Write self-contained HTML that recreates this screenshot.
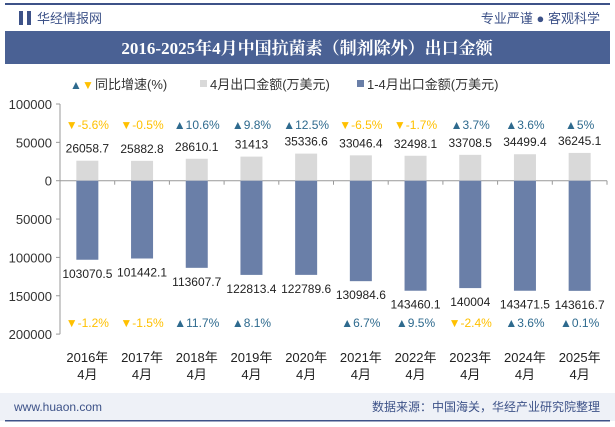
<!DOCTYPE html>
<html><head><meta charset="utf-8"><style>
body{margin:0;width:615px;height:427px;background:#fff;overflow:hidden;font-family:"Liberation Sans","Noto Sans CJK SC",sans-serif}
</style></head><body>
<svg width="615" height="427" xmlns="http://www.w3.org/2000/svg" style="position:absolute;left:0;top:0">
<rect x="5" y="3" width="605" height="2" fill="#3d5288"/>
<rect x="19" y="11" width="4" height="14" fill="#3d5288"/>
<rect x="27" y="11" width="4" height="14" fill="#3d5288"/>
<text x="37" y="23" font-size="13" fill="#3d5288">华经情报网</text>
<text x="600" y="23" font-size="13" fill="#3d5288" text-anchor="end">专业严谨 ● 客观科学</text>
<rect x="5" y="31" width="605" height="33" fill="#4a6194"/>
<text x="307" y="54" font-size="17" font-weight="bold" fill="#fff" text-anchor="middle" font-family="'Liberation Serif','Noto Serif CJK SC',serif">2016-2025年4月中国抗菌素（制剂除外）出口金额</text>
<g font-size="13" fill="#333">
<text x="70" y="89" font-size="12" fill="#2e6a8e">▲</text><text x="82" y="89" font-size="12" fill="#ffc000">▼</text>
<text x="95" y="89">同比增速(%)</text>
<rect x="200" y="80" width="7" height="7" fill="#d9d9d9"/><text x="210" y="89">4月出口金额(万美元)</text>
<rect x="357" y="80" width="7" height="7" fill="#6a7fa8"/><text x="367" y="89">1-4月出口金额(万美元)</text>
</g>
<g id="axis"></g><g id="bars"></g>
<rect x="0" y="393" width="615" height="28" fill="#eef1f7"/>
<rect x="5" y="420" width="605" height="1.5" fill="#3d5288"/>
<text x="14" y="411" font-size="12" fill="#3d5288">www.huaon.com</text>
<text x="600" y="411" font-size="12" fill="#3d5288" text-anchor="end">数据来源：中国海关，华经产业研究院整理</text>
</svg>
<script>
const years=["2016","2017","2018","2019","2020","2021","2022","2023","2024","2025"];
const aprilVals=[26058.7,25882.8,28610.1,31413,35336.6,33046.4,32498.1,33708.5,34499.4,36245.1];
const aprilGrowth=[-5.6,-0.5,10.6,9.8,12.5,-6.5,-1.7,3.7,3.6,5];
const ytdVals=[103070.5,101442.1,113607.7,122813.4,122789.6,130984.6,143460.1,140004,143471.5,143616.7];
const ytdGrowth=[-1.2,-1.5,11.7,8.1,null,6.7,9.5,-2.4,3.6,0.1];
const yTicks=[100000,50000,0,-50000,-100000,-150000,-200000];
const NS="http://www.w3.org/2000/svg";
const x0=60,x1=607,y0=180.7,k=76.7/100000;
const Y=v=>y0-v*k;
const step=(x1-x0)/years.length;
const X=i=>x0+step*(i+0.5);
function el(t,a,p,txt){const e=document.createElementNS(NS,t);for(const q in a)e.setAttribute(q,a[q]);if(txt!=null)e.textContent=txt;p.appendChild(e);return e;}
const ax=document.getElementById('axis'),g=document.getElementById('bars');
const yl=el('line',{x1:x0,y1:Y(100000),x2:x0,y2:Y(-200000),stroke:'#999'},ax);


yTicks.forEach(t=>{
 el('line',{x1:x0-4,y1:Y(t),x2:x0,y2:Y(t),stroke:'#999'},ax);
 const tx=el('text',{x:x0-8,y:Y(t)+5,'font-size':13,fill:'#333','text-anchor':'end'},ax,String(Math.abs(t)));
 
 
});
const xl=el('line',{x1:x0,y1:y0,x2:x1,y2:y0,stroke:'#999'},ax);


years.forEach((yr,i)=>{
 const cx=X(i);
 el('line',{x1:x0+step*(i+1),y1:y0,x2:x0+step*(i+1),y2:y0+4,stroke:'#999'},ax);
 const b1=el('rect',{x:cx-11,y:Y(aprilVals[i]),width:22,height:aprilVals[i]*k,fill:'#d9d9d9'},g);
 
 
 const b2=el('rect',{x:cx-11,y:y0,width:22,height:ytdVals[i]*k,fill:'#6a7fa8'},g);
 
 
 const l1=el('text',{x:cx,y:Y(aprilVals[i])-8,'font-size':12,fill:'#222','text-anchor':'middle'},g,String(aprilVals[i]));
 
 
 const l2=el('text',{x:cx,y:Y(-ytdVals[i])+18,'font-size':12,fill:'#222','text-anchor':'middle'},g,String(ytdVals[i]));
 
 
 [[aprilGrowth[i],129],[ytdGrowth[i],327]].forEach(([v,yy],j)=>{
  if(v==null)return;
  const up=v>=0;
  const t=el('text',{x:cx,y:yy,'font-size':12,fill:up?'#2e6a8e':'#ffc000','text-anchor':'middle'},g,(up?'▲':'▼')+v+'%');
  
  
 });
 const c1=el('text',{x:cx,y:362,'font-size':13,fill:'#222','text-anchor':'middle'},g,yr+'年');
 
 
 el('text',{x:cx,y:379,'font-size':13,fill:'#222','text-anchor':'middle'},g,'4月');
});
</script>
</body></html>
